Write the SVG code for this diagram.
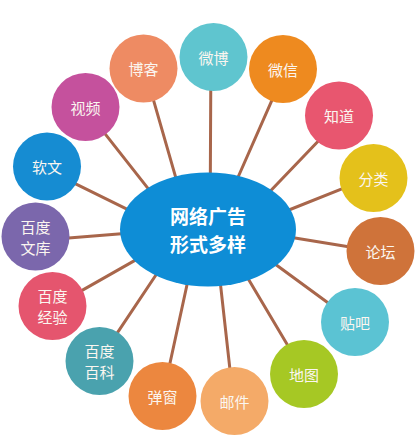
<svg xmlns="http://www.w3.org/2000/svg" width="419" height="446" viewBox="0 0 419 446">
<style>
.c{stroke:none}
.t{font-family:"Noto Sans CJK SC","Noto Sans",sans-serif;font-size:15px;fill:#FBF6F0;text-anchor:middle;dominant-baseline:central}
.h{font-family:"Noto Sans CJK SC","Noto Sans",sans-serif;font-size:19px;font-weight:bold;fill:#FFFFFF;text-anchor:middle;dominant-baseline:central}
#connectors line{stroke:#A8664B;stroke-width:3;stroke-linecap:round}
</style>
<rect width="419" height="446" fill="#FFFFFF"/>
<g id="connectors">
<line x1="151.2" y1="92.1" x2="177.8" y2="184.6"/>
<line x1="99.8" y1="127.1" x2="152.9" y2="194.6"/>
<line x1="67" y1="179.6" x2="134" y2="212.7"/>
<line x1="210.8" y1="80" x2="210.3" y2="182"/>
<line x1="275.3" y1="92.6" x2="235.7" y2="182.5"/>
<line x1="323.6" y1="135.5" x2="266.1" y2="195.5"/>
<line x1="350" y1="185.6" x2="281.4" y2="213"/>
<line x1="356.2" y1="247.9" x2="285.8" y2="236.4"/>
<line x1="335.4" y1="308.2" x2="269.2" y2="259.8"/>
<line x1="292.4" y1="353.3" x2="244.6" y2="272.7"/>
<line x1="230.8" y1="377" x2="219.6" y2="276.4"/>
<line x1="167.9" y1="372.8" x2="188.8" y2="276.5"/>
<line x1="112.8" y1="339.6" x2="160.6" y2="268"/>
<line x1="74.6" y1="294.6" x2="142" y2="256.4"/>
<line x1="59.3" y1="238.8" x2="130.7" y2="232.9"/>
</g>
<g id="center"><ellipse cx="208" cy="229.5" rx="88" ry="57" fill="#0E8DD6"/><text class="h" x="208" y="215">网络广告</text><text class="h" x="208" y="243.5">形式多样</text></g>
<g id="n-boke"><circle cx="143.5" cy="68.5" r="34" fill="#EE8B63"/><text class="t" x="143.5" y="68.5">博客</text></g>
<g id="n-weibo"><circle cx="213.5" cy="57" r="34" fill="#5FC5CF"/><text class="t" x="213.5" y="57">微博</text></g>
<g id="n-weixin"><circle cx="283" cy="69" r="34" fill="#EE8A1F"/><text class="t" x="283" y="69">微信</text></g>
<g id="n-zhidao"><circle cx="339" cy="115.5" r="34" fill="#E8566F"/><text class="t" x="339" y="115.5">知道</text></g>
<g id="n-fenlei"><circle cx="373.5" cy="178" r="34" fill="#E4C11B"/><text class="t" x="373.5" y="178">分类</text></g>
<g id="n-luntan"><circle cx="380.5" cy="251" r="34" fill="#CF733A"/><text class="t" x="380.5" y="251">论坛</text></g>
<g id="n-tieba"><circle cx="355" cy="322" r="34" fill="#5BC3D3"/><text class="t" x="355" y="322">贴吧</text></g>
<g id="n-ditu"><circle cx="304" cy="374" r="34" fill="#A6C824"/><text class="t" x="304" y="374">地图</text></g>
<g id="n-youjian"><circle cx="234.5" cy="401" r="34" fill="#F4AA68"/><text class="t" x="234.5" y="401">邮件</text></g>
<g id="n-tanchuang"><circle cx="162.5" cy="396" r="34" fill="#EC873F"/><text class="t" x="162.5" y="396">弹窗</text></g>
<g id="n-baike"><circle cx="99.5" cy="361" r="34" fill="#4AA2AE"/><text class="t" x="99.5" y="350.5">百度</text><text class="t" x="99.5" y="371.5">百科</text></g>
<g id="n-jingyan"><circle cx="52.5" cy="306" r="34" fill="#E5556E"/><text class="t" x="52.5" y="295.5">百度</text><text class="t" x="52.5" y="316.5">经验</text></g>
<g id="n-wenku"><circle cx="35.5" cy="236.5" r="34" fill="#7B67AC"/><text class="t" x="35.5" y="226">百度</text><text class="t" x="35.5" y="247">文库</text></g>
<g id="n-ruanwen"><circle cx="47" cy="166.5" r="34" fill="#168CD2"/><text class="t" x="47" y="166.5">软文</text></g>
<g id="n-shipin"><circle cx="85.5" cy="107" r="34" fill="#C5519D"/><text class="t" x="85.5" y="107">视频</text></g>
</svg>
